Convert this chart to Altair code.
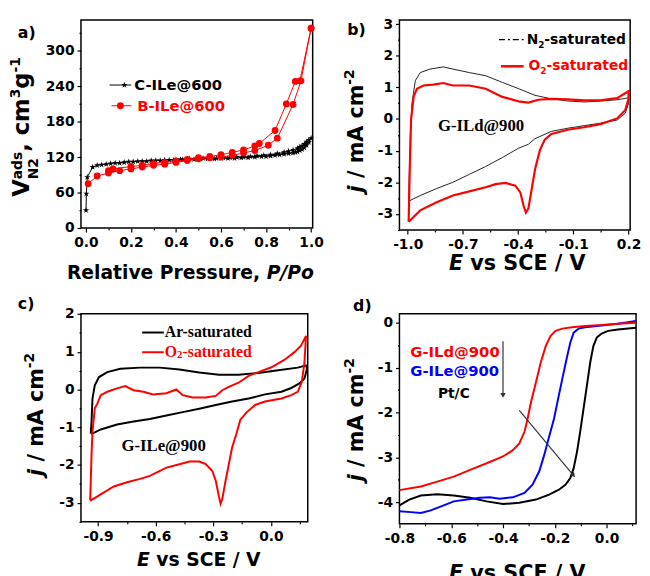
import altair as alt
import pandas as pd

# ------------------------------------------------------------------ data
# a) N2 isotherms
C_ads_P = [0.0005, 0.002, 0.006, 0.03, 0.05, 0.07, 0.09, 0.11, 0.13, 0.15,
           0.17, 0.19, 0.21, 0.23, 0.25, 0.27, 0.29, 0.31, 0.33, 0.35,
           0.37, 0.39, 0.42, 0.45, 0.48, 0.51, 0.54, 0.57, 0.60, 0.63,
           0.66, 0.69, 0.72, 0.75, 0.78, 0.80, 0.82, 0.84, 0.86, 0.88,
           0.90, 0.92, 0.93, 0.94, 0.95, 0.96, 0.97, 0.98, 0.99, 1.0]
C_ads_V = [30, 58, 86, 103, 106, 107, 108, 109, 110, 110,
           111, 112, 112, 113, 113, 113, 114, 114, 114, 115,
           115, 115, 116, 116, 116, 117, 117, 117, 118, 118,
           118, 119, 119, 120, 121, 121, 122, 123, 124, 125,
           126, 127, 128, 129, 131, 133, 136, 140, 145, 152]
C_des_P = [0.99, 0.98, 0.97, 0.96, 0.95, 0.94, 0.92, 0.90, 0.88, 0.85,
           0.82, 0.79, 0.76, 0.73, 0.70, 0.67, 0.64, 0.61, 0.58, 0.55,
           0.52, 0.49, 0.46, 0.43, 0.40]
C_des_V = [149, 146, 142, 139, 137, 135, 132, 130, 128, 126,
           124, 123, 122, 121, 120, 120, 119, 119, 118, 118,
           118, 117, 117, 116, 116]
B_ads_P = [0.01, 0.05, 0.1, 0.15, 0.2, 0.25, 0.3, 0.35, 0.4, 0.45, 0.5,
           0.55, 0.6, 0.65, 0.7, 0.75, 0.81, 0.85, 0.92, 0.955, 1.0]
B_ads_V = [75, 88, 93, 97, 100, 103, 106, 108, 111, 114, 117,
           119, 120, 123, 127, 131, 140, 152, 209, 249, 338]
B_des_P = [1.0, 0.95, 0.93, 0.89, 0.84, 0.77, 0.75, 0.7, 0.65, 0.6,
           0.55, 0.5, 0.45, 0.4, 0.35, 0.3, 0.25, 0.2, 0.12, 0.1]
B_des_V = [338, 249, 248, 210, 165, 143, 139, 132, 128, 124,
           121, 119, 116, 113, 111, 109, 106, 104, 100, 97]

# b) CV of G-ILd@900
N2_E = [-0.995, -0.986, -0.977, -0.959, -0.932, -0.879, -0.807, -0.754, -0.665, -0.576,
        -0.486, -0.397, -0.308, -0.219, -0.130, -0.041, 0.048, 0.138, 0.2, 0.2,
        0.182, 0.138, 0.048, -0.041, -0.130, -0.219, -0.308, -0.345, -0.397, -0.486,
        -0.576, -0.665, -0.754, -0.843, -0.932, -0.995]
N2_j = [-2.6, -0.55, 0.49, 1.21, 1.47, 1.58, 1.65, 1.58, 1.47, 1.37,
        1.16, 0.96, 0.75, 0.64, 0.57, 0.54, 0.57, 0.61, 0.67, 0.49,
        0.18, -0.03, -0.13, -0.21, -0.29, -0.39, -0.62, -0.80, -0.92, -1.22,
        -1.5, -1.75, -2.0, -2.2, -2.42, -2.6]
O2b_E = [-0.995, -0.989, -0.982, -0.968, -0.950, -0.914, -0.861, -0.807, -0.754, -0.665,
         -0.576, -0.486, -0.397, -0.344, -0.290, -0.219, -0.130, -0.041, 0.048, 0.138,
         0.2, 0.2, 0.182, 0.138, 0.048, -0.041, -0.130, -0.219, -0.255, -0.281,
         -0.308, -0.326, -0.344, -0.358, -0.371, -0.388, -0.415, -0.469, -0.522, -0.576,
         -0.665, -0.754, -0.843, -0.932, -0.986, -0.995]
O2b_j = [-3.25, -1.59, -0.03, 0.7, 0.96, 1.06, 1.09, 1.14, 1.06, 1.06,
         0.96, 0.7, 0.56, 0.52, 0.61, 0.64, 0.62, 0.59, 0.59, 0.66,
         0.88, 0.64, 0.28, 0.02, -0.16, -0.26, -0.34, -0.47, -0.65, -0.97,
         -1.59, -2.21, -2.83, -2.96, -2.73, -2.32, -2.11, -2.02, -2.06, -2.16,
         -2.29, -2.42, -2.63, -2.89, -3.2, -3.25]

# c) CV of G-ILe@900
Ar_E = [-0.938, -0.934, -0.929, -0.917, -0.895, -0.852, -0.784, -0.681, -0.578, -0.476,
        -0.373, -0.270, -0.168, -0.065, 0.038, 0.140, 0.183, 0.188, 0.175, 0.149,
        0.106, 0.055, -0.031, -0.116, -0.202, -0.287, -0.373, -0.459, -0.544, -0.630,
        -0.715, -0.801, -0.886, -0.929, -0.938]
Ar_j = [-1.17, -0.85, -0.24, 0.11, 0.33, 0.46, 0.55, 0.58, 0.58, 0.53,
        0.45, 0.39, 0.39, 0.44, 0.51, 0.58, 0.64, 0.55, 0.29, 0.16,
        0.04, -0.06, -0.13, -0.24, -0.32, -0.41, -0.51, -0.60, -0.69, -0.78,
        -0.85, -0.93, -1.06, -1.17, -1.17]
O2c_E = [-0.941, -0.934, -0.929, -0.917, -0.903, -0.886, -0.852, -0.801, -0.758, -0.715,
         -0.664, -0.613, -0.544, -0.493, -0.459, -0.407, -0.339, -0.287, -0.253, -0.219,
         -0.168, -0.116, -0.065, 0.003, 0.072, 0.123, 0.157, 0.183, 0.175, 0.161,
         0.140, 0.106, 0.055, -0.031, -0.082, -0.125, -0.159, -0.181, -0.202, -0.219,
         -0.236, -0.253, -0.262, -0.270, -0.287, -0.305, -0.339, -0.373, -0.424, -0.476,
         -0.544, -0.630, -0.681, -0.749, -0.818, -0.886, -0.938, -0.941]
O2c_j = [-2.94, -1.72, -1.11, -0.50, -0.37, -0.15, -0.06, 0.03, 0.09, -0.02,
         -0.06, -0.13, -0.10, 0.0, -0.15, -0.21, -0.21, -0.17, -0.02, 0.07,
         0.18, 0.36, 0.46, 0.59, 0.79, 0.99, 1.16, 1.42, 0.72, 0.2,
         -0.06, -0.15, -0.24, -0.32, -0.41, -0.60, -0.80, -1.20, -1.54, -1.98,
         -2.42, -2.90, -3.03, -2.85, -2.42, -2.16, -1.98, -1.91, -1.91, -1.98,
         -2.07, -2.29, -2.37, -2.46, -2.57, -2.78, -2.94, -2.94]

# d) LSV curves
Ld_E = [-0.8, -0.717, -0.654, -0.590, -0.527, -0.463, -0.4, -0.362, -0.337, -0.317,
        -0.305, -0.292, -0.273, -0.254, -0.235, -0.216, -0.197, -0.171, -0.133, -0.083,
        -0.019, 0.044, 0.114]
Ld_j = [-3.73, -3.65, -3.54, -3.43, -3.28, -3.13, -2.98, -2.84, -2.69, -2.43,
        -2.14, -1.77, -1.33, -0.88, -0.52, -0.29, -0.18, -0.13, -0.10, -0.07,
        -0.05, -0.02, 0.0]
Le_E = [-0.8, -0.756, -0.717, -0.679, -0.629, -0.590, -0.540, -0.489, -0.451, -0.413,
        -0.362, -0.317, -0.286, -0.260, -0.241, -0.222, -0.203, -0.187, -0.171, -0.152,
        -0.140, -0.127, -0.108, -0.083, -0.019, 0.044, 0.114]
Le_j = [-4.20, -4.22, -4.24, -4.18, -4.07, -3.98, -3.94, -3.90, -3.89, -3.92,
        -3.89, -3.79, -3.61, -3.31, -2.95, -2.54, -2.14, -1.69, -1.25, -0.74,
        -0.44, -0.22, -0.13, -0.10, -0.06, -0.02, 0.04]
Pt_E = [-0.8, -0.762, -0.717, -0.654, -0.590, -0.527, -0.463, -0.4, -0.337, -0.273,
        -0.222, -0.184, -0.159, -0.140, -0.127, -0.114, -0.102, -0.089, -0.076, -0.063,
        -0.051, -0.038, -0.019, 0.006, 0.044, 0.114]
Pt_j = [-4.07, -3.94, -3.85, -3.82, -3.85, -3.90, -3.98, -4.04, -4.01, -3.94,
        -3.83, -3.72, -3.61, -3.46, -3.24, -2.87, -2.43, -1.92, -1.40, -0.88,
        -0.52, -0.33, -0.24, -0.18, -0.15, -0.11]
# arrows in d (start E, start j, end E, end j)
ARROW_V = [-0.40, -0.41, -0.40, -1.62]
ARROW_D = [-0.337, -1.95, -0.128, -3.40]

# tick values
A_X_TICKS = [0.0, 0.1, 0.2, 0.3, 0.4, 0.5, 0.6, 0.7, 0.8, 0.9, 1.0]
A_Y_TICKS = [0, 30, 60, 90, 120, 150, 180, 210, 240, 270, 300, 330]
B_X_TICKS = [-1.0, -0.85, -0.7, -0.55, -0.4, -0.25, -0.1, 0.05, 0.2]
B_Y_TICKS = [-3.5, -3.0, -2.5, -2.0, -1.5, -1.0, -0.5, 0.0, 0.5, 1.0, 1.5, 2.0, 2.5, 3.0]
C_X_TICKS = [-0.9, -0.75, -0.6, -0.45, -0.3, -0.15, 0.0, 0.15]
C_Y_TICKS = [-3.5, -3.0, -2.5, -2.0, -1.5, -1.0, -0.5, 0.0, 0.5, 1.0, 1.5, 2.0]
D_X_TICKS = [-0.8, -0.7, -0.6, -0.5, -0.4, -0.3, -0.2, -0.1, 0.0, 0.1]
D_Y_TICKS = [-4.0, -3.5, -3.0, -2.5, -2.0, -1.5, -1.0, -0.5, 0.0]

# ------------------------------------------------------------------ helpers
SANS = "DejaVu Sans"
SERIF = "Liberation Serif"
RED = "#ff0000"
BLUE = "#0000ff"
STAR = ("M0,-1L0.2245,-0.309L0.951,-0.309L0.363,0.118L0.588,0.809L0,0.382"
        "L-0.588,0.809L-0.363,0.118L-0.951,-0.309L-0.2245,-0.309Z")

ADV = {' ': 0.348, ',': 0.380, '-': 0.415, '/': 0.365, '@': 1.0,
       'A': 0.774, 'C': 0.734, 'E': 0.683, 'N': 0.837, 'P': 0.733, 'R': 0.770,
       'S': 0.720, 'V': 0.774, 'O': 0.850,
       'a': 0.675, 'c': 0.593, 'd': 0.716, 'e': 0.678, 'g': 0.716, 'i': 0.343,
       'j': 0.343, 'l': 0.343, 'm': 1.042, 'o': 0.687, 'r': 0.493, 's': 0.595,
       't': 0.478, 'u': 0.712, 'v': 0.652}
for _d in "0123456789":
    ADV[_d] = 0.696


def adv(s, size):
    return sum(ADV.get(ch, 0.62) for ch in s) * size


def label(t, x, y, size, color="black", font=SANS, style="normal", weight="bold",
          angle=0, baseline="alphabetic", align="left"):
    return alt.Chart(alt.Data(values=[{"k": 0}])).mark_text(
        text=t, font=font, fontSize=size, fontStyle=style, fontWeight=weight,
        color=color, angle=angle, align=align, baseline=baseline
    ).encode(x=alt.value(x), y=alt.value(y))


def run_h(segs, x0, y0, color="black", font=SANS, baseline="alphabetic"):
    out = []
    x = x0
    for t, size, shift, style in segs:
        out.append(label(t.rstrip(), x, y0 + shift, size, color=color, font=font,
                         style=style, baseline=baseline))
        x += adv(t, size)
    return out


def title_h(segs, cx, y0):
    total = sum(adv(t, s) for t, s, _, _ in segs)
    return run_h(segs, cx - total / 2, y0)


def title_v(segs, cy, bx):
    total = sum(adv(t, s) if a is None else a for t, s, _, _, a in segs)
    y = cy + total / 2
    out = []
    for t, s, sh, st, a in segs:
        out.append(label(t.rstrip(), bx + sh, y, s, style=st, angle=270))
        y -= adv(t, s) if a is None else a
    return out


def hline(x1, x2, y, color="black", width=1.0, dash=None):
    kw = dict(color=color, strokeWidth=width)
    if dash:
        kw["strokeDash"] = dash
    return alt.Chart(alt.Data(values=[{"k": 0}])).mark_rule(**kw).encode(
        x=alt.value(x1), x2=alt.value(x2), y=alt.value(y))


def dot(x, y, shape, color, size):
    return alt.Chart(alt.Data(values=[{"k": 0}])).mark_point(
        shape=shape, filled=True, color=color, size=size, opacity=1
    ).encode(x=alt.value(x), y=alt.value(y))


def axis(values, test, fmt):
    return alt.Axis(
        values=values,
        labelExpr=f"({test}) ? replace(format(datum.value, '{fmt}'), '\u2212', '-') : ''",
        tickSize={"condition": {"test": test, "value": 4}, "value": 2},
        title=None,
    )


def frame(df, xs, ys, ax, ay, xf="E", yf="j"):
    return dict(x=alt.X(f"{xf}:Q", scale=xs, axis=ax),
                y=alt.Y(f"{yf}:Q", scale=ys, axis=ay))


def curve(E, J, color, width, enc, dash=None):
    df = pd.DataFrame({"E": E, "j": J, "i": list(range(len(E)))})
    kw = dict(color=color, strokeWidth=width)
    if dash:
        kw["strokeDash"] = dash
    return alt.Chart(df).mark_line(**kw).encode(**enc, order="i:Q")


J_TITLE = [("j ", 21, 0, "italic", None), ("/ mA cm", 21, 0, "normal", None),
           ("-2", 14, -9, "normal", None)]
E_TITLE = [("E ", 21, 0, "italic"), ("vs SCE / V", 21, 0, "normal")]
E_TITLE_S = [("E ", 19, 0, "italic"), ("vs SCE / V", 19, 0, "normal")]

# ------------------------------------------------------------------ panel a
sx_a = alt.Scale(domain=[-0.022, 1.007], nice=False, zero=False)
sy_a = alt.Scale(domain=[0, 352], nice=False, zero=False)
ax_a = axis(A_X_TICKS, "round(datum.value*10) % 2 == 0", ".1f")
ay_a = axis(A_Y_TICKS, "datum.value % 60 == 0", "d")
enc_a = frame(None, sx_a, sy_a, ax_a, ay_a, "P", "V")

dfC = pd.DataFrame({"P": C_ads_P + C_des_P, "V": C_ads_V + C_des_V})
dfC["i"] = range(len(dfC))
dfB = pd.DataFrame({"P": B_ads_P + B_des_P, "V": B_ads_V + B_des_V})
dfB["i"] = range(len(dfB))

a_layers = [
    alt.Chart(dfC).mark_line(color="black", strokeWidth=1).encode(**enc_a, order="i:Q"),
    alt.Chart(dfC).mark_point(shape=STAR, filled=True, color="black", size=45, opacity=1).encode(**enc_a),
    alt.Chart(dfB).mark_line(color=RED, strokeWidth=1).encode(**enc_a, order="i:Q"),
    alt.Chart(dfB).mark_point(shape="circle", filled=True, color=RED, size=48, opacity=1).encode(**enc_a),
    hline(29, 51, 66, "black", 1), dot(44, 66, STAR, "black", 45),
    label("C-ILe@600", 54, 66, 15, baseline="middle"),
    hline(31, 51, 87, RED, 1), dot(40, 87, "circle", RED, 48),
    label("B-ILe@600", 57, 87, 15, color=RED, baseline="middle"),
    label("a)", -64, 18, 16),
    alt.Chart(alt.Data(values=[{"k": 0}])).mark_rule(opacity=0).encode(
        x=alt.value(-73), x2=alt.value(-73), y=alt.value(-7), y2=alt.value(-7)),
]
a_layers += title_h([("Relative Pressure, ", 19, 0, "normal"), ("P/Po", 19, 0, "italic")], 111, 263)
a_layers += title_v([("V", 23, 0, "normal", None), ("N2", 14, 9, "normal", 0.0),
                     ("ads", 14, -7, "normal", None), (", cm", 23, 0, "normal", None),
                     ("3", 14, -8.5, "normal", None), ("g", 23, 0, "normal", None),
                     ("-1", 14, -8.5, "normal", None)], 108.5, -53)
panel_a = alt.layer(*a_layers).properties(width=235, height=211)

# ------------------------------------------------------------------ panel b
sx_b = alt.Scale(domain=[-1.045, 0.209], nice=False, zero=False)
sy_b = alt.Scale(domain=[-3.51, 3.135], nice=False, zero=False)
ax_b = axis(B_X_TICKS, "round((datum.value+1)/0.15) % 2 == 0", ".1f")
ay_b = axis(B_Y_TICKS, "round(datum.value*2) % 2 == 0", "d")
enc_b = frame(None, sx_b, sy_b, ax_b, ay_b)
b_layers = [
    curve(N2_E, N2_j, "#222222", 1.0, enc_b),
    curve(O2b_E, O2b_j, RED, 2.2, enc_b),
    hline(101, 126, 20, "black", 1.3, [6, 3, 2, 3]),
    hline(103, 126, 47, RED, 2.5),
    label("G-ILd@900", 39, 113, 17, font=SERIF),
    label("b)", -53, 15, 16),
]
b_layers += run_h([("N", 14, 0, "normal"), ("2", 9, 5, "normal"), ("-saturated", 14, 0, "normal")],
                  129, 20, baseline="middle")
b_layers += run_h([("O", 14, 0, "normal"), ("2", 9, 5, "normal"), ("-saturated", 14, 0, "normal")],
                  131, 47, color=RED, baseline="middle")
b_layers += title_h(E_TITLE, 119.5, 254)
b_layers += title_v(J_TITLE, 112.5, -37)
panel_b = alt.layer(*b_layers).properties(width=234, height=213)

# ------------------------------------------------------------------ panel c
sx_c = alt.Scale(domain=[-0.989, 0.192], nice=False, zero=False)
sy_c = alt.Scale(domain=[-3.508, 2.007], nice=False, zero=False)
ax_c = axis(C_X_TICKS, "round((datum.value+0.9)/0.15) % 2 == 0", ".1f")
ay_c = axis(C_Y_TICKS, "round(datum.value*2) % 2 == 0", "d")
enc_c = frame(None, sx_c, sy_c, ax_c, ay_c)
c_layers = [
    curve(Ar_E, Ar_j, "black", 2.0, enc_c),
    curve(O2c_E, O2c_j, RED, 2.0, enc_c),
    hline(62, 84, 19, "black", 2),
    label("Ar-saturated", 85, 24, 16, font=SERIF),
    hline(62, 84, 39, RED, 2),
    label("O", 85, 44, 16, color=RED, font=SERIF),
    label("2", 97.5, 45, 11, color=RED, font=SERIF),
    label("-saturated", 103, 44, 16, color=RED, font=SERIF),
    label("G-ILe@900", 41, 139, 17, font=SERIF),
    label("c)", -64, -5, 16),
]
c_layers += title_h(E_TITLE_S, 119.5, 256)
c_layers += title_v(J_TITLE, 102, -39)
panel_c = alt.layer(*c_layers).properties(width=230, height=211)

# ------------------------------------------------------------------ panel d
sx_d = alt.Scale(domain=[-0.8, 0.114], nice=False, zero=False)
sy_d = alt.Scale(domain=[-4.48, 0.2], nice=False, zero=False)
ax_d = axis(D_X_TICKS, "round(datum.value*10) % 2 == 0", ".1f")
ay_d = axis(D_Y_TICKS, "round(datum.value*2) % 2 == 0", "d")
enc_d = frame(None, sx_d, sy_d, ax_d, ay_d)
arrows = pd.DataFrame({"E": [ARROW_V[0], ARROW_D[0]], "j": [ARROW_V[1], ARROW_D[1]],
                       "E2": [ARROW_V[2], ARROW_D[2]], "j2": [ARROW_V[3], ARROW_D[3]]})
d_layers = [
    curve(Pt_E, Pt_j, "black", 2.0, enc_d),
    curve(Le_E, Le_j, BLUE, 2.0, enc_d),
    curve(Ld_E, Ld_j, RED, 2.0, enc_d),
    alt.Chart(arrows).mark_rule(color="#333333", strokeWidth=1.2).encode(
        **enc_d, x2="E2:Q", y2="j2:Q"),
    alt.Chart(arrows.iloc[[0]]).mark_point(shape="triangle-up", angle=180, filled=True,
                                           color="#333333", size=30, opacity=1).encode(
        x=alt.X("E2:Q", scale=sx_d, axis=ax_d), y=alt.Y("j2:Q", scale=sy_d, axis=ay_d)),
    alt.Chart(arrows.iloc[[1]]).mark_point(shape="triangle-up", angle=140, filled=True,
                                           color="#333333", size=30, opacity=1).encode(
        x=alt.X("E2:Q", scale=sx_d, axis=ax_d), y=alt.Y("j2:Q", scale=sy_d, axis=ay_d)),
    label("G-ILd@900", 11, 44, 15, color=RED),
    label("G-ILe@900", 11, 63, 15, color=BLUE),
    label("Pt/C", 39, 85, 14),
    label("d)", -47, -3, 16),
]
d_layers += title_h(E_TITLE, 119.5, 270)
d_layers += title_v(J_TITLE, 107.5, -37)
panel_d = alt.layer(*d_layers).properties(width=240, height=213)

# ------------------------------------------------------------------ compose
chart = alt.concat(
    panel_a, panel_b, panel_c, panel_d,
    columns=2, spacing={"row": 85, "column": 88}, bounds="flush",
).properties(padding=0).configure_view(
    stroke="black", strokeWidth=1.5
).configure_axis(
    domain=False, grid=False, tickColor="black", tickWidth=1.2,
    labelFont=SANS, labelFontSize=14, labelFontWeight="bold", labelColor="black",
    labelOverlap=False, labelFlush=False,
).configure_axisX(labelPadding=4).configure_axisY(labelPadding=3)

chart.save("out.html", embed_options={"renderer": "svg", "actions": False})
